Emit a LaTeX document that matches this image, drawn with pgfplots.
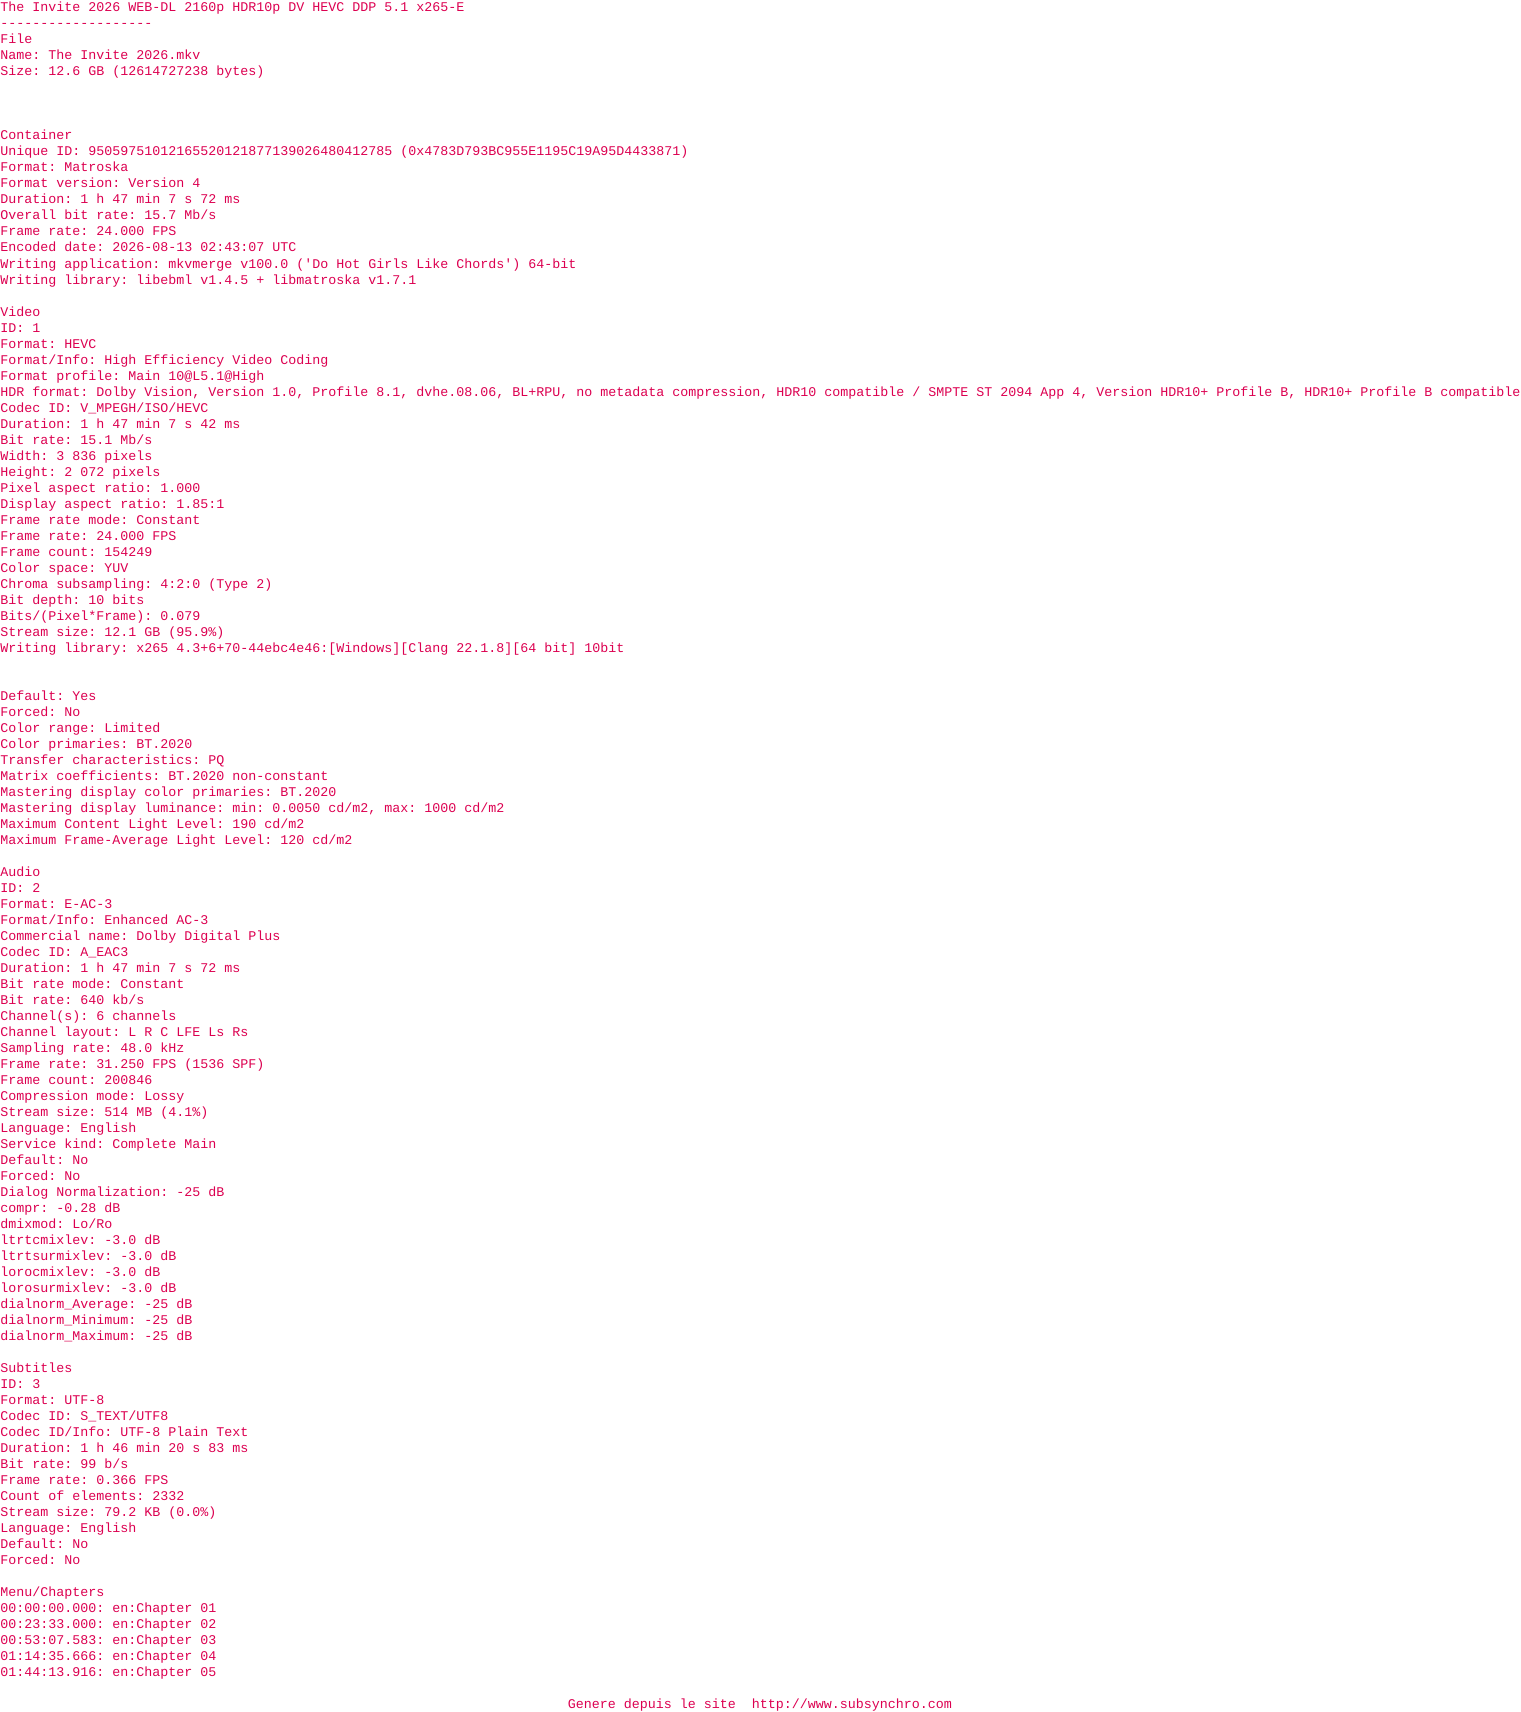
\documentclass[border=0pt]{standalone}
\usepackage{fontspec}
\setmonofont{Liberation Mono}
\usepackage{pgfplots}
\pgfplotsset{compat=1.18}
\definecolor{txt}{RGB}{220,0,80}
\newcommand\Ln[2]{\node[anchor=base west,inner sep=0pt,text=txt,font=\ttfamily\fontsize{10}{12}\selectfont] at (axis cs:0,#1) {#2};}
\begin{document}
\begin{tikzpicture}
\begin{axis}[
  scale only axis, width=1140pt, height=1284pt,
  xmin=0, xmax=1520, ymin=0, ymax=1712, y dir=reverse,
  hide axis, clip=false]
\addplot[draw=none, mark=none] coordinates {(0,0) (1520,1712)};
\Ln{12}{The Invite 2026 WEB-DL 2160p HDR10p DV HEVC DDP 5.1 x265-E}
\Ln{28}{-------------------}
\Ln{44}{File}
\Ln{60}{Name: The Invite 2026.mkv}
\Ln{76}{Size: 12.6 GB (12614727238 bytes)}
\Ln{140}{Container}
\Ln{156}{Unique ID: 95059751012165520121877139026480412785 (0x4783D793BC955E1195C19A95D4433871)}
\Ln{172}{Format: Matroska}
\Ln{188}{Format version: Version 4}
\Ln{204}{Duration: 1 h 47 min 7 s 72 ms}
\Ln{220}{Overall bit rate: 15.7 Mb/s}
\Ln{236}{Frame rate: 24.000 FPS}
\Ln{252}{Encoded date: 2026-08-13 02:43:07 UTC}
\Ln{268}{Writing application: mkvmerge v100.0 ('Do Hot Girls Like Chords') 64-bit}
\Ln{284}{Writing library: libebml v1.4.5 + libmatroska v1.7.1}
\Ln{316}{Video}
\Ln{332}{ID: 1}
\Ln{348}{Format: HEVC}
\Ln{364}{Format/Info: High Efficiency Video Coding}
\Ln{380}{Format profile: Main 10@L5.1@High}
\Ln{396}{HDR format: Dolby Vision, Version 1.0, Profile 8.1, dvhe.08.06, BL+RPU, no metadata compression, HDR10 compatible / SMPTE ST 2094 App 4, Version HDR10+ Profile B, HDR10+ Profile B compatible}
\Ln{412}{Codec ID: V\_MPEGH/ISO/HEVC}
\Ln{428}{Duration: 1 h 47 min 7 s 42 ms}
\Ln{444}{Bit rate: 15.1 Mb/s}
\Ln{460}{Width: 3 836 pixels}
\Ln{476}{Height: 2 072 pixels}
\Ln{492}{Pixel aspect ratio: 1.000}
\Ln{508}{Display aspect ratio: 1.85:1}
\Ln{524}{Frame rate mode: Constant}
\Ln{540}{Frame rate: 24.000 FPS}
\Ln{556}{Frame count: 154249}
\Ln{572}{Color space: YUV}
\Ln{588}{Chroma subsampling: 4:2:0 (Type 2)}
\Ln{604}{Bit depth: 10 bits}
\Ln{620}{Bits/(Pixel*Frame): 0.079}
\Ln{636}{Stream size: 12.1 GB (95.9\%)}
\Ln{652}{Writing library: x265 4.3+6+70-44ebc4e46:[Windows][Clang 22.1.8][64 bit] 10bit}
\Ln{700}{Default: Yes}
\Ln{716}{Forced: No}
\Ln{732}{Color range: Limited}
\Ln{748}{Color primaries: BT.2020}
\Ln{764}{Transfer characteristics: PQ}
\Ln{780}{Matrix coefficients: BT.2020 non-constant}
\Ln{796}{Mastering display color primaries: BT.2020}
\Ln{812}{Mastering display luminance: min: 0.0050 cd/m2, max: 1000 cd/m2}
\Ln{828}{Maximum Content Light Level: 190 cd/m2}
\Ln{844}{Maximum Frame-Average Light Level: 120 cd/m2}
\Ln{876}{Audio}
\Ln{892}{ID: 2}
\Ln{908}{Format: E-AC-3}
\Ln{924}{Format/Info: Enhanced AC-3}
\Ln{940}{Commercial name: Dolby Digital Plus}
\Ln{956}{Codec ID: A\_EAC3}
\Ln{972}{Duration: 1 h 47 min 7 s 72 ms}
\Ln{988}{Bit rate mode: Constant}
\Ln{1004}{Bit rate: 640 kb/s}
\Ln{1020}{Channel(s): 6 channels}
\Ln{1036}{Channel layout: L R C LFE Ls Rs}
\Ln{1052}{Sampling rate: 48.0 kHz}
\Ln{1068}{Frame rate: 31.250 FPS (1536 SPF)}
\Ln{1084}{Frame count: 200846}
\Ln{1100}{Compression mode: Lossy}
\Ln{1116}{Stream size: 514 MB (4.1\%)}
\Ln{1132}{Language: English}
\Ln{1148}{Service kind: Complete Main}
\Ln{1164}{Default: No}
\Ln{1180}{Forced: No}
\Ln{1196}{Dialog Normalization: -25 dB}
\Ln{1212}{compr: -0.28 dB}
\Ln{1228}{dmixmod: Lo/Ro}
\Ln{1244}{ltrtcmixlev: -3.0 dB}
\Ln{1260}{ltrtsurmixlev: -3.0 dB}
\Ln{1276}{lorocmixlev: -3.0 dB}
\Ln{1292}{lorosurmixlev: -3.0 dB}
\Ln{1308}{dialnorm\_Average: -25 dB}
\Ln{1324}{dialnorm\_Minimum: -25 dB}
\Ln{1340}{dialnorm\_Maximum: -25 dB}
\Ln{1372}{Subtitles}
\Ln{1388}{ID: 3}
\Ln{1404}{Format: UTF-8}
\Ln{1420}{Codec ID: S\_TEXT/UTF8}
\Ln{1436}{Codec ID/Info: UTF-8 Plain Text}
\Ln{1452}{Duration: 1 h 46 min 20 s 83 ms}
\Ln{1468}{Bit rate: 99 b/s}
\Ln{1484}{Frame rate: 0.366 FPS}
\Ln{1500}{Count of elements: 2332}
\Ln{1516}{Stream size: 79.2 KB (0.0\%)}
\Ln{1532}{Language: English}
\Ln{1548}{Default: No}
\Ln{1564}{Forced: No}
\Ln{1596}{Menu/Chapters}
\Ln{1612}{00:00:00.000: en:Chapter 01}
\Ln{1628}{00:23:33.000: en:Chapter 02}
\Ln{1644}{00:53:07.583: en:Chapter 03}
\Ln{1660}{01:14:35.666: en:Chapter 04}
\Ln{1676}{01:44:13.916: en:Chapter 05}
\node[anchor=base,inner sep=0pt,text=txt,font=\ttfamily\fontsize{10}{12}\selectfont] at (axis cs:760,1708) {Genere depuis le site\ \ http://www.subsynchro.com};
\end{axis}
\pgfresetboundingbox
\path (current axis.south west) rectangle (current axis.north east);
\end{tikzpicture}
\end{document}
